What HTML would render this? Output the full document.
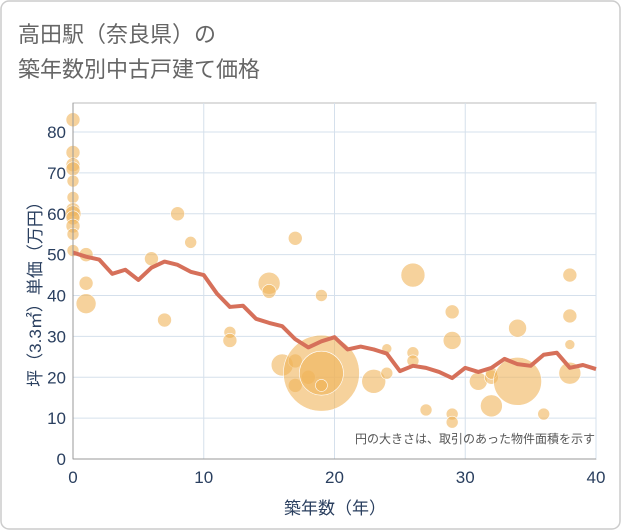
<!DOCTYPE html>
<html><head><meta charset="utf-8"><style>
body{margin:0;background:#fff;}
svg{display:block;font-family:"Liberation Sans","Noto Sans CJK JP",sans-serif;}
</style></head><body>
<svg id="chart" width="621" height="530">
<rect x="1" y="1" width="619" height="528" rx="8" fill="#fff" stroke="#ccc" stroke-width="1.5"/>
<text x="18" y="42" font-size="22" fill="#666">高田駅（奈良県）の</text>
<text x="18" y="77" font-size="22" fill="#666">築年数別中古戸建て価格</text>
<g id="grid"></g>
<g id="bubbles"></g>
<g id="line"></g>
<g id="axes"></g>
<text x="595" y="443" font-size="12" fill="#555" text-anchor="end">円の大きさは、取引のあった物件面積を示す</text>
<text x="335" y="514" font-size="17" fill="#2a3f5f" text-anchor="middle">築年数（年）</text>
<text transform="translate(41,290) rotate(-90)" font-size="17" fill="#2a3f5f" text-anchor="middle">坪（3.3㎡）単価（万円）</text>
</svg>
<script>
const xTicks=[0,10,20,30,40];
const yTicks=[0,10,20,30,40,50,60,70,80];
const lineYears=[0,1,2,3,4,5,6,7,8,9,10,11,12,13,14,15,16,17,18,19,20,21,22,23,24,25,26,27,28,29,30,31,32,33,34,35,36,37,38,39,40];
const lineValues=[50.5,49.5,48.8,45.3,46.3,43.8,46.8,48.3,47.5,45.8,45,40.5,37.2,37.5,34.3,33.3,32.5,29.3,27.3,28.8,29.8,26.8,27.5,26.8,25.8,21.5,22.8,22.3,21.3,19.8,22.3,21.3,22.3,24.5,23.2,22.8,25.5,26,22.3,23,22];
const bubbleX=[0,0,0,0,0,0,0,0,0,0,0,0,1,1,1,6,7,8,9,12,12,15,15,16,17,17,17,18,19,19,19,19,23,24,24,26,26,26,27,29,29,29,29,31,32,32,32,34,34,36,38,38,38,38];
const bubbleY=[83,75,72,71,68,64,61,60,59,57,55,51,50,43,38,49,34,60,53,31,29,43,41,23,54,24,18,20,21,21,18,40,19,27,21,45,26,24,12,36,29,11,9,19,13,20,21,32,19,11,45,35,28,21];
const bubbleR=[7,7,7,7,6,6,7,8,7,7,6,6,7,7,10,7,7,7,6,6,7,11,7,11,7,7,7,7,38,22,6,6,12,5,6,12,6,6,6,7,9,6,6,9,11,7,6,9,24,6,7,7,5,11];
const X0=73,X1=596,Y0=459,Y1=132;
const sx=v=>X0+(v/40)*(X1-X0);
const sy=v=>Y0-(v/80)*(Y0-Y1);
const NS="http://www.w3.org/2000/svg";
function mk(t,a,p){const e=document.createElementNS(NS,t);for(const k in a)e.setAttribute(k,a[k]);p.appendChild(e);return e;}
const grid=document.getElementById('grid'),axes=document.getElementById('axes');
mk('rect',{x:X0,y:103,width:X1-X0,height:Y0-103,fill:'none',stroke:'#bbb'},grid);
xTicks.forEach(t=>{
 const l=mk('line',{x1:sx(t),x2:sx(t),y1:103,y2:Y0,stroke:'#d5e0ec'},grid);
 
 
 const tx=mk('text',{x:sx(t),y:Y0+24,'font-size':17,fill:'#2a3f5f','text-anchor':'middle'},axes);
 tx.textContent=t;
 
 
});
yTicks.forEach(t=>{
 const l=mk('line',{x1:X0,x2:X1,y1:sy(t),y2:sy(t),stroke:'#d5e0ec'},grid);
 
 
 const tx=mk('text',{x:X0-7,y:sy(t)+6,'font-size':17,fill:'#2a3f5f','text-anchor':'end'},axes);
 tx.textContent=t;
 
 
});
mk('line',{x1:X0,x2:X0,y1:103,y2:Y0,stroke:'#999'},axes);
mk('line',{x1:X0,x2:X1,y1:Y0,y2:Y0,stroke:'#999'},axes);
const bg=document.getElementById('bubbles');
bubbleX.forEach((x,i)=>{
 const c=mk('circle',{cx:sx(x),cy:sy(bubbleY[i]),r:bubbleR[i],fill:'rgba(240,180,90,0.6)',stroke:'#fff','stroke-width':0.6},bg);
 
 
});
const pts=lineYears.map((y,i)=>sx(y)+','+sy(lineValues[i])).join(' ');
const pl=mk('polyline',{points:pts,fill:'none',stroke:'#d6705a','stroke-width':4,'stroke-linejoin':'round'},document.getElementById('line'));


</script>
</body></html>
